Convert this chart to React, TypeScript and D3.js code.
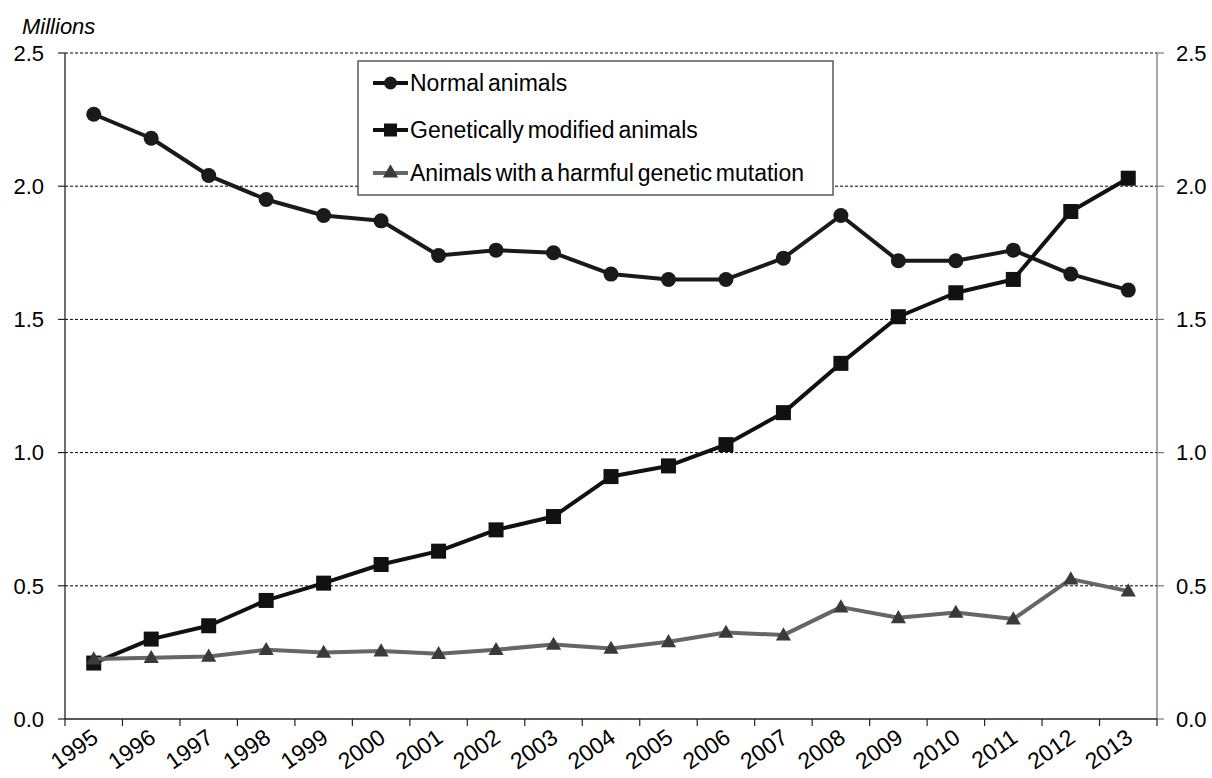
import React from "react";
import * as d3 from "d3";

const years = ["1995","1996","1997","1998","1999","2000","2001","2002","2003","2004","2005","2006","2007","2008","2009","2010","2011","2012","2013"];
const normalAnimals = [2.27,2.18,2.04,1.95,1.89,1.87,1.74,1.76,1.75,1.67,1.65,1.65,1.73,1.89,1.72,1.72,1.76,1.67,1.61];
const gmAnimals = [0.21,0.30,0.35,0.445,0.51,0.58,0.63,0.71,0.76,0.91,0.95,1.03,1.15,1.335,1.51,1.60,1.65,1.905,2.03];
const harmfulAnimals = [0.225,0.23,0.235,0.26,0.25,0.255,0.245,0.26,0.28,0.265,0.29,0.325,0.315,0.42,0.38,0.40,0.375,0.525,0.48];
const yTicks = [0, 0.5, 1.0, 1.5, 2.0, 2.5];
const seriesNames = ["Normal animals", "Genetically modified animals", "Animals with a harmful genetic mutation"];

const W = 1212, H = 778;
const left = 65, right = 1157, top = 53, bottom = 719;
const FONT = "'Liberation Sans', Arial, sans-serif";

export default function App() {
  const x = d3.scaleBand<string>().domain(years).range([left, right]).padding(0);
  const cx = (y: string) => (x(y) as number) + x.bandwidth() / 2;
  const y = d3.scaleLinear().domain([0, 2.5]).range([bottom, top]);
  const line = d3.line<number>().x((_, i) => cx(years[i])).y((d) => y(d));

  const tri = d3.symbol().type(d3.symbolTriangle).size(100)();

  const legendX = 358, legendY = 61;
  const rows = [83, 130, 173];

  return (
    <svg width={W} height={H} style={{ position: "absolute", left: 0, top: 0, background: "#fff" }}>
      <rect x={0} y={0} width={W} height={H} fill="#fff" />
      {/* gridlines */}
      {yTicks.filter((t) => t > 0).map((t) => (
        <line key={t} x1={left} x2={right} y1={y(t)} y2={y(t)} stroke="#000" strokeWidth={1} strokeDasharray="3,2" />
      ))}
      {/* axes */}
      <line x1={left} x2={left} y1={top} y2={bottom} stroke="#222" strokeWidth={1.3} />
      <line x1={right} x2={right} y1={top} y2={bottom} stroke="#777" strokeWidth={1.3} />
      <line x1={left} x2={right} y1={bottom} y2={bottom} stroke="#222" strokeWidth={1.3} />
      {yTicks.map((t) => (
        <g key={"yt" + t}>
          <line x1={left - 7} x2={left} y1={y(t)} y2={y(t)} stroke="#222" strokeWidth={1.2} />
          <line x1={right} x2={right + 7} y1={y(t)} y2={y(t)} stroke="#777" strokeWidth={1.2} />
          <text x={44} y={y(t)} dy="0.35em" textAnchor="end" fontFamily={FONT} fontSize={22} fill="#000">{t.toFixed(1)}</text>
          <text x={1176} y={y(t)} dy="0.35em" textAnchor="start" fontFamily={FONT} fontSize={22} fill="#000">{t.toFixed(1)}</text>
        </g>
      ))}
      {/* x ticks */}
      {years.map((yr) => (
        <line key={"xt" + yr} x1={x(yr) as number} x2={x(yr) as number} y1={bottom} y2={bottom + 7} stroke="#222" strokeWidth={1.2} />
      ))}
      <line x1={right} x2={right} y1={bottom} y2={bottom + 7} stroke="#222" strokeWidth={1.2} />
      {years.map((yr) => (
        <text key={"xl" + yr} transform={`translate(${cx(yr) + 6},${bottom + 22}) rotate(-35)`} textAnchor="end" fontFamily={FONT} fontSize={23} fill="#000">{yr}</text>
      ))}
      <text x={22} y={34} fontFamily={FONT} fontSize={22} fontStyle="italic" fill="#000">Millions</text>

      {/* series: normal */}
      <path d={line(normalAnimals) || ""} fill="none" stroke="#1a1a1a" strokeWidth={4} strokeLinejoin="round" />
      {normalAnimals.map((v, i) => (
        <circle key={"n" + i} cx={cx(years[i])} cy={y(v)} r={7.5} fill="#1a1a1a" />
      ))}
      {/* GM */}
      <path d={line(gmAnimals) || ""} fill="none" stroke="#111" strokeWidth={4} strokeLinejoin="round" />
      {gmAnimals.map((v, i) => (
        <rect key={"g" + i} x={cx(years[i]) - 7.5} y={y(v) - 7.5} width={15} height={15} fill="#111" />
      ))}
      {/* harmful */}
      <path d={line(harmfulAnimals) || ""} fill="none" stroke="#666" strokeWidth={4} strokeLinejoin="round" />
      {harmfulAnimals.map((v, i) => (
        <path key={"h" + i} d={tri || ""} transform={`translate(${cx(years[i])},${y(v) + 1})`} fill="#3a3a3a" />
      ))}

      {/* legend */}
      <rect x={legendX} y={legendY} width={475} height={134} fill="#fff" stroke="#404040" strokeWidth={1.3} />
      {seriesNames.map((name, i) => {
        const ry = rows[i];
        const col = i === 2 ? "#666" : "#111";
        return (
          <g key={"lg" + i}>
            <line x1={373} x2={408} y1={ry} y2={ry} stroke={col} strokeWidth={4} />
            {i === 0 && <circle cx={390.5} cy={ry} r={6.5} fill="#1a1a1a" />}
            {i === 1 && <rect x={384} y={ry - 6.5} width={13} height={13} fill="#111" />}
            {i === 2 && <path d={tri || ""} transform={`translate(390.5,${ry})`} fill="#3a3a3a" />}
            <text x={410} y={ry} dy="0.35em" fontFamily={FONT} fontSize={23} fill="#000" wordSpacing={-2.5}>{name}</text>
          </g>
        );
      })}
    </svg>
  );
}
